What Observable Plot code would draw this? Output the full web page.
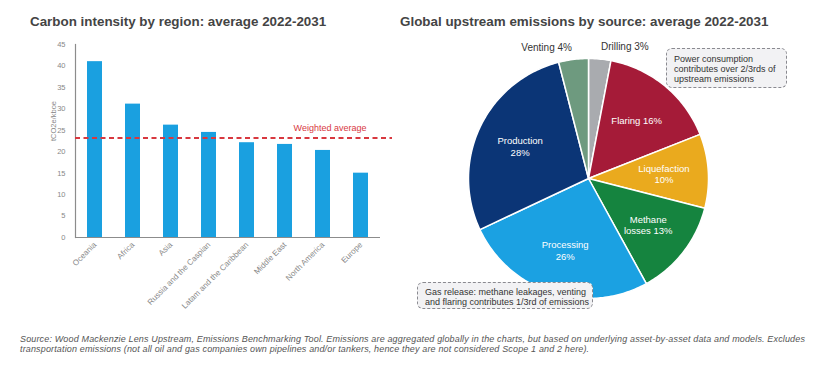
<!DOCTYPE html>
<html><head><meta charset="utf-8">
<script src="https://cdn.jsdelivr.net/npm/d3@7"></script>
<script src="https://cdn.jsdelivr.net/npm/@observablehq/plot@0.6"></script>
<style>
body{margin:0;background:#fff;}
#wrap{position:relative;width:821px;height:371px;overflow:hidden;font-family:"Liberation Sans",Arial,sans-serif;}
.abs{position:absolute;}
.title{font-weight:bold;font-size:13.4px;color:#444;white-space:nowrap;line-height:15px;}
.note{border:1px dashed #8a8a90;border-radius:6px;background:#f2f2f4;font-size:9px;line-height:10px;color:#333;box-sizing:border-box;padding:5px 0 0 7px;white-space:nowrap;}
.cap{font-style:italic;font-size:9px;letter-spacing:0.15px;line-height:9.5px;color:#555;white-space:nowrap;}
</style></head>
<body><div id="wrap">
<div class="abs title" style="left:30px;top:14px">Carbon intensity by region: average 2022-2031</div>
<div class="abs title" style="left:400px;top:14px">Global upstream emissions by source: average 2022-2031</div>
<div id="left" class="abs" style="left:0;top:0"></div>
<div id="right" class="abs" style="left:400px;top:0"></div>
<div class="abs note" style="left:666px;top:48px;width:121px;height:40px">Power consumption<br>contributes over 2/3rds of<br>upstream emissions</div>
<div class="abs note" style="left:417px;top:282px;width:176px;height:27px;padding-top:4px">Gas release: methane leakages, venting<br>and flaring contributes 1/3rd of emissions</div>
<div class="abs cap" style="left:20px;top:335px">Source: Wood Mackenzie Lens Upstream, Emissions Benchmarking Tool. Emissions are aggregated globally in the charts, but based on underlying asset-by-asset data and models. Excludes<br>transportation emissions (not all oil and gas companies own pipelines and/or tankers, hence they are not considered Scope 1 and 2 here).</div>
</div>
<script>
// ---- Left chart data ----
const regions = ["Oceania","Africa","Asia","Russia and the Caspian","Latam and the Caribbean","Middle East","North America","Europe"];
const intensity = [41.0, 31.1, 26.2, 24.5, 22.1, 21.7, 20.3, 15.0];
const weightedAverage = 23.2;
const yTicks = [0,5,10,15,20,25,30,35,40,45];

// ---- Right chart data ----
const sources = ["Drilling","Flaring","Liquefaction","Methane losses","Processing","Production","Venting"];
const shares = [3, 16, 10, 13, 26, 28, 4];
const sliceLabels = ["Drilling 3%","Flaring 16%","Liquefaction\n10%","Methane\nlosses 13%","Processing\n26%","Production\n28%","Venting 4%"];
const sliceColors = ["#a9abaf","#a51b38","#eaaa1e","#15843f","#1ba1e2","#0b3576","#6e9a7f"];

const bars = regions.map((r,i)=>({region:r, value:intensity[i]}));

const left = Plot.plot({
  width: 400, height: 320,
  marginLeft: 75, marginRight: 20, marginTop: 44, marginBottom: 83,
  style: {fontFamily: "Liberation Sans, Arial, sans-serif", background: "transparent"},
  x: {domain: regions, paddingInner: 0.6, paddingOuter: 0.3},
  y: {domain: [0,45]},
  marks: [
    Plot.barY(bars, {x:"region", y:"value", fill:"#1aa0e0"}),
    Plot.ruleY([0], {stroke:"#8c8c8c", strokeWidth:1.2}),
    Plot.frame({anchor:"left", stroke:"#8c8c8c", strokeWidth:1.2}),
    Plot.axisY({ticks: yTicks, tickSize:0, tickPadding:10, fontSize:7.5, fill:"#888", label:null}),
    Plot.axisX({tickSize:0, tickPadding:6, tickRotate:-45, fontSize:8, fill:"#888", label:null}),
    Plot.text(["tCO2e/kboe"], {frameAnchor:"left", rotate:-90, dx:-22, fontSize:7.5, fill:"#888"}),
    Plot.ruleY([weightedAverage], {stroke:"#d8383f", strokeWidth:1.8, strokeDasharray:"5,3.5", insetRight:-12}),
    Plot.text([weightedAverage], {y:d=>d, text:()=>"Weighted average", frameAnchor:"right", textAnchor:"end", dx:-14, dy:-10, fontSize:9, fill:"#d8383f"})
  ]
});
document.getElementById("left").appendChild(left);

// pie geometry from data
const pieGen = d3.pie().sort(null).value(d=>d.share);
const arcs = pieGen(sources.map((s,i)=>({source:s, share:shares[i], label:sliceLabels[i]})));
const poly = [];
arcs.forEach(a=>{
  const s = a.data.source;
  poly.push({source:s, px:0, py:0});
  const n = Math.max(2, Math.ceil((a.endAngle-a.startAngle)/(Math.PI/180)));
  for (let k=0;k<=n;k++){
    const t = a.startAngle + (a.endAngle-a.startAngle)*k/n;
    poly.push({source:s, px:Math.sin(t), py:Math.cos(t)});
  }
});
const labelsIn = [], labelsOutL = [], labelsOutR = [];
arcs.forEach(a=>{
  const m = (a.startAngle+a.endAngle)/2;
  if (a.data.share < 5) {
    const o = {text:a.data.label, px:1.1*Math.sin(m), py:1.1*Math.cos(m)};
    (Math.sin(m)<0 ? labelsOutL : labelsOutR).push(o);
  } else {
    labelsIn.push({text:a.data.label, px:0.63*Math.sin(m), py:0.63*Math.cos(m)});
  }
});

const right = Plot.plot({
  width: 421, height: 320, margin: 0,
  style: {fontFamily: "Liberation Sans, Arial, sans-serif", background: "transparent"},
  x: {domain:[-1,1], range:[68,308], axis:null},
  y: {domain:[-1,1], range:[298,58], axis:null},
  color: {domain: sources, range: sliceColors},
  marks: [
    Plot.line(poly, {x:"px", y:"py", z:"source", fill:"source", stroke:"white", strokeWidth:1.5, curve:"linear-closed"}),
    Plot.text(labelsIn, {x:"px", y:"py", text:"text", fill:"white", fontSize:9.5, lineHeight:1.2}),
    Plot.text(labelsOutL, {x:"px", y:"py", text:"text", textAnchor:"end", fill:"#333", fontSize:10}),
    Plot.text(labelsOutR, {x:"px", y:"py", text:"text", textAnchor:"start", fill:"#333", fontSize:10})
  ]
});
document.getElementById("right").appendChild(right);
</script>
</body></html>
